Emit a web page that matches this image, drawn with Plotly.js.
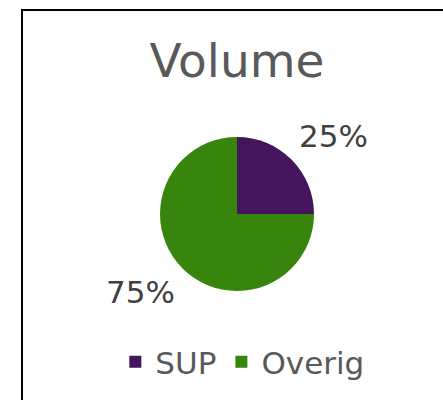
<!DOCTYPE html>
<html>
<head>
<meta charset="utf-8">
<script src="https://cdn.plot.ly/plotly-3.0.1.min.js"></script>
<style>
  html, body { margin: 0; padding: 0; background: #fff; }
  #wrap { position: relative; width: 443px; height: 400px; overflow: hidden; }
  #chart { position: absolute; left: 0; top: 0; width: 443px; height: 400px; }
  #frame { position: absolute; left: 21px; top: 9px; width: 500px; height: 500px;
           border-left: 2px solid #000; border-top: 2px solid #000; pointer-events: none; }
</style>
</head>
<body>
<div id="wrap">
  <div id="chart"></div>
  <div id="frame"></div>
</div>
<script>
const categories = ["SUP", "Overig"];
const values = [25, 75];
const colors = ["#44145C", "#38850E"];
const chartTitle = "Volume";

const W = 443, H = 400;
const dom = { x: [0.3612, 0.7088], y: [0.2725, 0.6575] };

const trace = {
  type: "pie",
  labels: categories,
  values: values,
  sort: false,
  direction: "clockwise",
  rotation: 0,
  marker: { colors: colors, line: { width: 0 } },
  textinfo: "none",
  hoverinfo: "label+percent",
  domain: dom,
  automargin: false
};

// data labels placed outside each slice, at the slice's mid-angle (derived from values)
const total = values.reduce((a, b) => a + b, 0);
const cx = (dom.x[0] + dom.x[1]) / 2, cy = (dom.y[0] + dom.y[1]) / 2;
const rPx = (dom.x[1] - dom.x[0]) * W / 2;
const annotations = [];
let cum = 0;
values.forEach((v, i) => {
  const mid = (cum + v / 2) / total * 2 * Math.PI;
  cum += v;
  const dxPx = Math.sin(mid) * rPx * 1.77;
  const dyPx = Math.cos(mid) * rPx * 1.43;
  annotations.push({
    xref: "paper", yref: "paper",
    x: cx + dxPx / W, y: cy + dyPx / H,
    xanchor: "center", yanchor: "middle",
    text: Math.round(v / total * 100) + "%",
    showarrow: false,
    font: { family: "DejaVu Sans", size: 31, color: "#404040" }
  });
});

const layout = {
  width: W,
  height: H,
  margin: { l: 0, r: 0, t: 0, b: 0 },
  paper_bgcolor: "#ffffff",
  plot_bgcolor: "#ffffff",
  font: { family: "DejaVu Sans", color: "#595959" },
  title: {
    text: chartTitle,
    font: { family: "DejaVu Sans", size: 47, color: "#595959" },
    x: 0.535, xanchor: "center",
    xref: "container", yref: "container",
    y: 1 - 61 / 400, yanchor: "middle"
  },
  annotations: annotations,
  showlegend: true,
  legend: {
    orientation: "h",
    x: 0.547, xanchor: "center",
    y: 0.095, yanchor: "middle",
    font: { family: "DejaVu Sans", size: 31, color: "#595959" },
    itemgap: 26,
    bgcolor: "rgba(0,0,0,0)"
  }
};

Plotly.newPlot("chart", [trace], layout, { displayModeBar: false, staticPlot: true });
</script>
</body>
</html>
